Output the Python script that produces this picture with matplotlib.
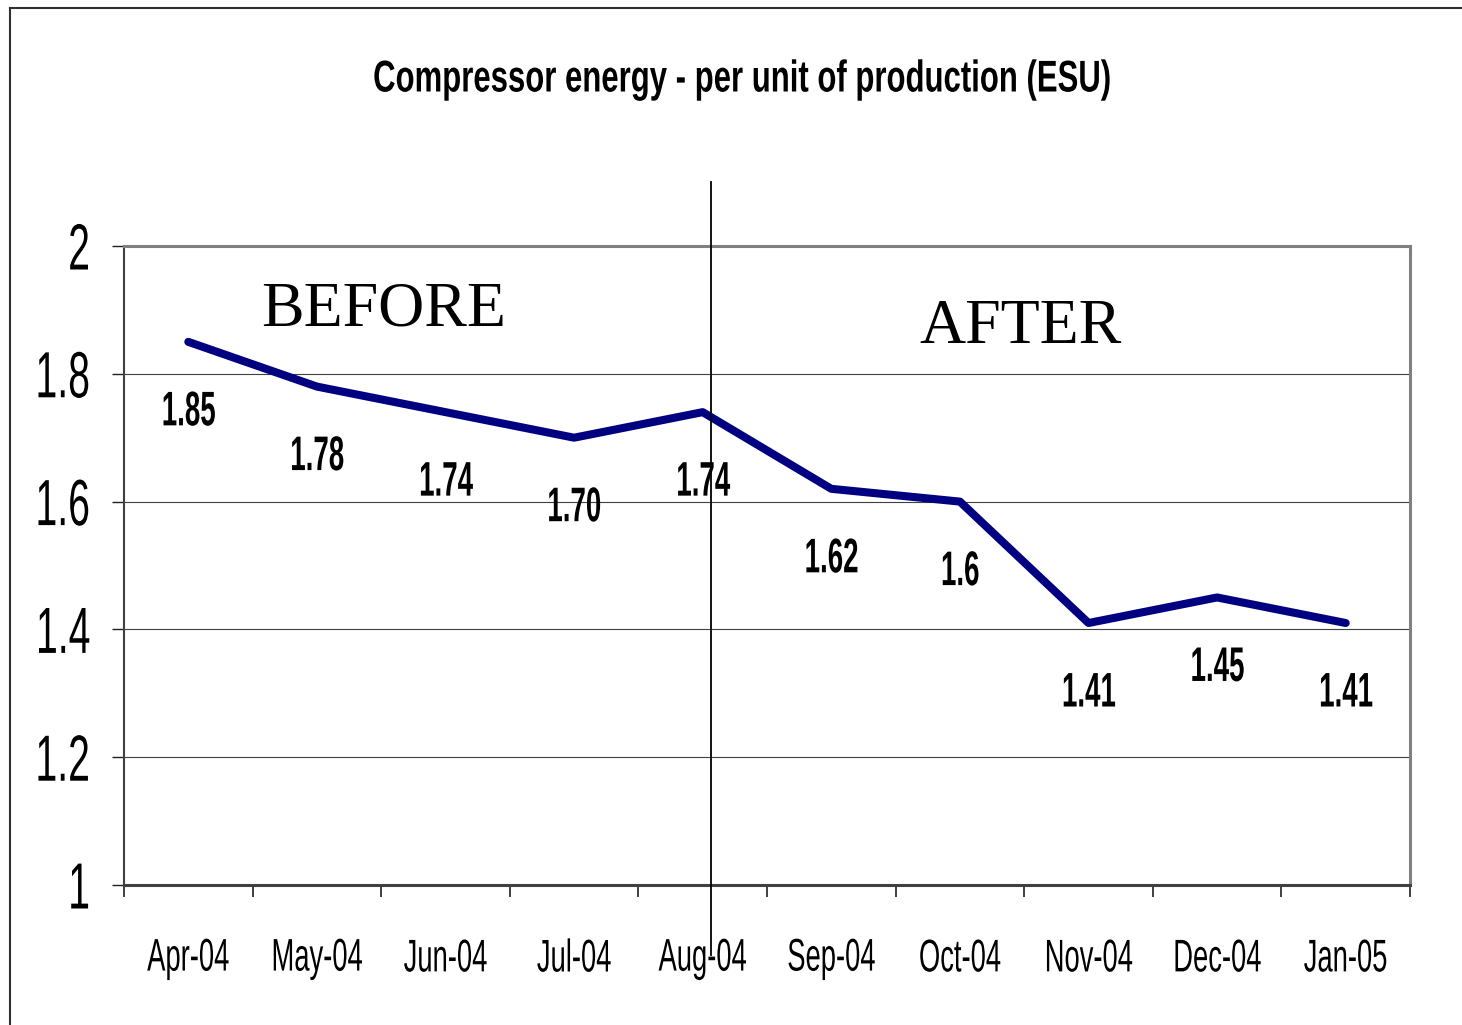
"""
Compressor energy per unit of production, before/after line chart.
"""

import matplotlib
matplotlib.use("Agg")
import matplotlib.pyplot as plt
import matplotlib.patheffects as path_effects
from matplotlib.lines import Line2D
from matplotlib.transforms import Affine2D
import numpy as np

months = ["Apr-04", "May-04", "Jun-04", "Jul-04", "Aug-04",
          "Sep-04", "Oct-04", "Nov-04", "Dec-04", "Jan-05"]
energy = [1.85, 1.78, 1.74, 1.70, 1.74, 1.62, 1.60, 1.41, 1.45, 1.41]
point_labels = ["1.85", "1.78", "1.74", "1.70", "1.74",
                "1.62", "1.6", "1.41", "1.45", "1.41"]
y_ticks = [1, 1.2, 1.4, 1.6, 1.8, 2]
y_tick_labels = ["1", "1.2", "1.4", "1.6", "1.8", "2"]

SANS = ["Liberation Sans", "DejaVu Sans"]
SERIF = ["Liberation Serif", "DejaVu Serif"]


class Squeeze(path_effects.AbstractPathEffect):
    """Draw text narrower (condensed look) by scaling its glyphs."""

    def __init__(self, sx, sy=1.0, anchor="center"):
        super().__init__()
        self.sx = sx
        self.sy = sy
        self.anchor = anchor

    def draw_path(self, renderer, gc, tpath, affine, rgbFace=None):
        ext = tpath.get_extents(affine)
        if self.anchor == "right":
            cx = ext.x1
        elif self.anchor == "left":
            cx = ext.x0
        else:
            cx = (ext.x0 + ext.x1) / 2
        cy = (ext.y0 + ext.y1) / 2
        squeeze = (Affine2D().translate(-cx, -cy)
                   .scale(self.sx, self.sy).translate(cx, cy))
        renderer.draw_path(gc, tpath, affine + squeeze, rgbFace)


W, H = 1462, 1025
fig = plt.figure(figsize=(W / 100, H / 100), dpi=100)
ax = fig.add_axes([124 / W, 1 - 885 / H, (1410 - 124) / W, (885 - 246) / H])

x = np.arange(len(months))
ax.plot(x, energy, color="#000080", linewidth=5.8, solid_joinstyle="round",
        solid_capstyle="round", zorder=4)

for xi, yi, lab in zip(x, energy, point_labels):
    t = ax.annotate(lab, (xi, yi), xytext=(0, -71), textcoords="offset pixels",
                    ha="center", va="center", fontsize=35, fontweight="bold",
                    family=SANS, zorder=5)
    t.set_path_effects([Squeeze(0.57)])

# axes / grid
ax.set_xlim(-0.5, len(months) - 0.5)
ax.set_ylim(1, 2)
ax.set_yticks(y_ticks)
ax.set_yticklabels(y_tick_labels, family=SANS, fontsize=47)
ax.set_xticks(x)
ax.set_xticklabels(months, family=SANS, fontsize=27)
ax.set_xticks(np.arange(-0.5, len(months)), minor=True)
ax.tick_params(axis="x", which="major", length=0, pad=40)
ax.tick_params(axis="x", which="minor", length=8.6, width=1.2, direction="out",
               color="#202020")
ax.tick_params(axis="y", length=8.6, width=1.0, direction="out", pad=15,
               color="#202020")
for lbl in ax.get_yticklabels():
    lbl.set_path_effects([Squeeze(0.6, anchor="right")])
for lbl in ax.get_xticklabels():
    lbl.set_path_effects([Squeeze(0.73, sy=1.22)])

for yv in y_ticks[1:-1]:
    ax.axhline(yv, color="#404040", linewidth=0.8, zorder=1)

ax.spines["top"].set_color("#808080")
ax.spines["top"].set_linewidth(2.2)
ax.spines["right"].set_color("#808080")
ax.spines["right"].set_linewidth(2.2)
ax.spines["bottom"].set_color("#404040")
ax.spines["bottom"].set_linewidth(2.2)
ax.spines["left"].set_color("#404040")
ax.spines["left"].set_linewidth(1.5)

# before / after divider
ax.plot([4.065, 4.065], [2.1, 0.89], color="black", linewidth=1.3,
        clip_on=False, zorder=6)
ax.text(1.52, 1.899, "BEFORE", family=SERIF, fontsize=46, ha="center",
        va="center")
ax.text(6.47, 1.872, "AFTER", family=SERIF, fontsize=46, ha="center",
        va="center")

title = fig.text(743 / W, 1 - 80 / H,
                 "Compressor energy - per unit of production (ESU)",
                 family=SANS, fontsize=32, fontweight="bold",
                 ha="center", va="center")
title.set_path_effects([Squeeze(0.70)])

# outer frame (left and top edges visible)
fig.add_artist(Line2D([10 / W, 10 / W], [1 - 8 / H, 0], color="#303030",
                      linewidth=1.5, transform=fig.transFigure))
fig.add_artist(Line2D([10 / W, 1], [1 - 8 / H, 1 - 8 / H], color="#303030",
                      linewidth=1.5, transform=fig.transFigure))

fig.savefig("out.png", dpi=100)
